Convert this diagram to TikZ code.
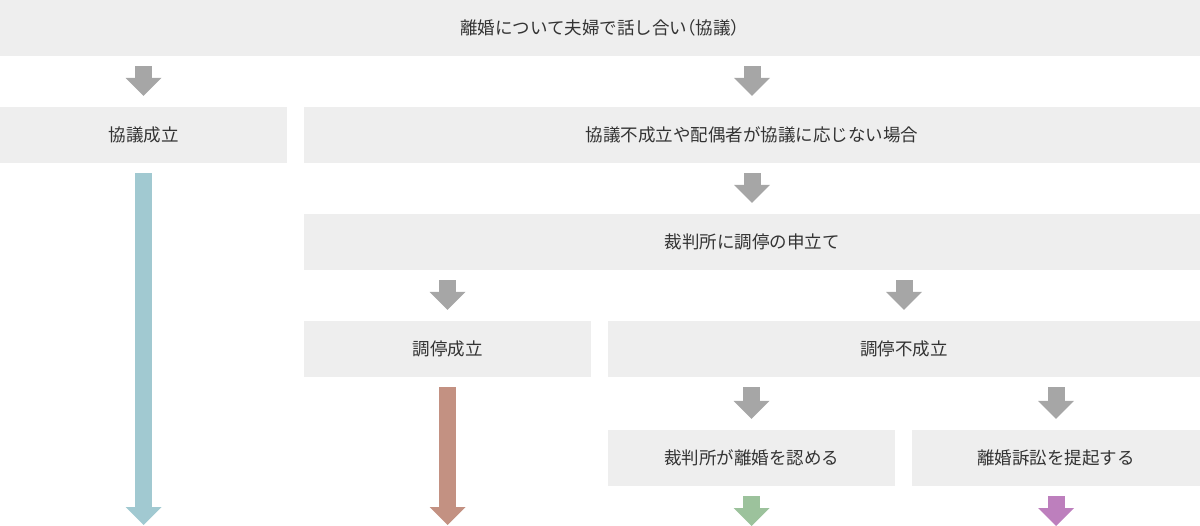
\documentclass[tikz,border=0pt]{standalone}
\usepackage{fontspec}
\setmainfont{Noto Sans CJK JP}
\usepackage{xcolor}
\usetikzlibrary{arrows.meta}

\definecolor{boxgray}{HTML}{EEEEEE}
\definecolor{txtgray}{HTML}{333333}
\definecolor{arrgray}{HTML}{A6A6A6}
\definecolor{arrblue}{HTML}{A1C9D1}
\definecolor{arrbrown}{HTML}{C39182}
\definecolor{arrgreen}{HTML}{9CC29C}
\definecolor{arrpurple}{HTML}{BD7FBD}
\newcommand{\halfw}[1]{{\addfontfeature{RawFeature=+halt}#1}}

\begin{document}
\begin{tikzpicture}[
  x=1pt, y=-1pt,
  font=\fontsize{17.5}{21}\selectfont, text=txtgray,
  box/.style={fill=boxgray, minimum height=56pt, inner sep=0pt},
  flow/.style={line width=17pt, draw=#1,
               -{Triangle[width=36pt, length=18pt, line width=0pt]},
               shorten <=10pt, shorten >=11pt},
  flow/.default=arrgray
]
\useasboundingbox (0,0) rectangle (1200,526);
% boxes
\node[box, minimum width=1200pt] (talk) at (600,28) {離婚について夫婦で話し合い\halfw{（}協議\halfw{）}};
\node[box, minimum width=287pt] (agree) at (143.5,135) {協議成立};
\node[box, minimum width=896pt] (fail) at (752,135) {協議不成立や配偶者が協議に応じない場合};
\node[box, minimum width=896pt] (apply) at (752,242) {裁判所に調停の申立て};
\node[box, minimum width=287pt] (medok) at (447.5,349) {調停成立};
\node[box, minimum width=592pt] (medng) at (904,349) {調停不成立};
\node[box, minimum width=287pt] (judge) at (751.5,458) {裁判所が離婚を認める};
\node[box, minimum width=288pt] (suit) at (1056,458) {離婚訴訟を提起する};
% gray arrows
\draw[flow] (agree.north |- talk.south) -- (agree.north);
\draw[flow] (fail.north |- talk.south) -- (fail.north);
\draw[flow] (fail) -- (apply);
\draw[flow] (medok.north |- apply.south) -- (medok.north);
\draw[flow] (medng.north |- apply.south) -- (medng.north);
\draw[flow] (judge.north |- medng.south) -- (judge.north);
\draw[flow] (suit.north |- medng.south) -- (suit.north);
% results
\coordinate (endA) at (143.5,526);
\coordinate (endB) at (447.5,526);
\coordinate (endC) at (751.5,526);
\coordinate (endD) at (1056,526);
\draw[flow=arrblue, shorten >=1pt] (agree) -- (endA);
\draw[flow=arrbrown, shorten >=1pt] (medok) -- (endB);
\draw[flow=arrgreen, shorten >=0pt] (judge) -- (endC);
\draw[flow=arrpurple, shorten >=0pt] (suit) -- (endD);
\end{tikzpicture}
\end{document}
